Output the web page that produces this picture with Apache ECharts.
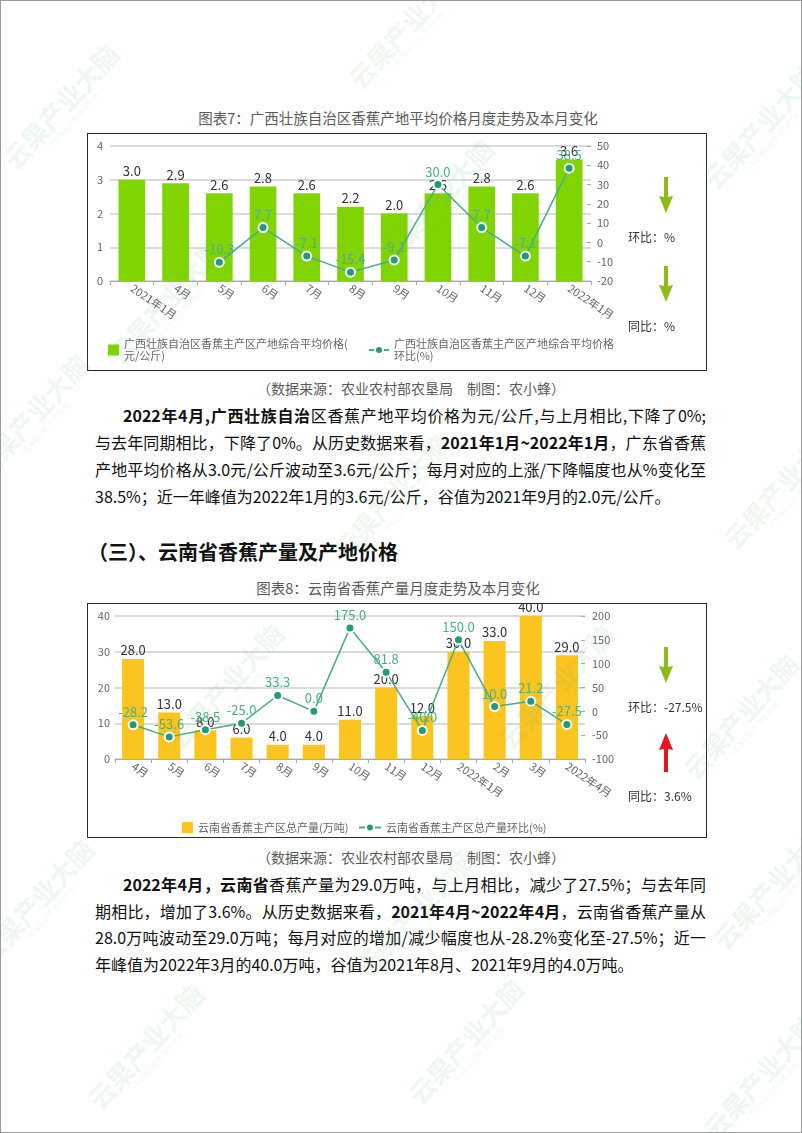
<!DOCTYPE html>
<html><head><meta charset="utf-8">
<script src="https://cdn.jsdelivr.net/npm/echarts@6/dist/echarts.min.js"></script>
<style>
html,body{margin:0;padding:0;background:#fff;}
#page{position:relative;width:802px;height:1133px;overflow:hidden;font-family:"Noto Sans CJK SC",sans-serif;color:#111;background:#fff;}
.cap{position:absolute;left:0;width:796px;text-align:center;font-size:14.5px;color:#5a5a5a;line-height:20px;height:20px;}
.src{position:absolute;left:0;width:822px;text-align:center;font-size:14px;color:#5a5a5a;line-height:20px;height:20px;}
.box{position:absolute;border:1.5px solid #2b2b2b;box-sizing:border-box;pointer-events:none;}
.chart{position:absolute;}
.ln{position:absolute;font-size:16px;line-height:27px;height:27px;white-space:nowrap;text-align:justify;text-align-last:justify;color:#111;}
.ln.last{text-align-last:left;}
.ln b{font-weight:700;}
.h3{position:absolute;left:88px;top:538px;font-size:20px;font-weight:700;line-height:28px;color:#111;}
.wm{position:absolute;width:170px;height:40px;margin-left:-85px;margin-top:-20px;text-align:center;transform:rotate(-48deg);color:rgba(95,180,115,0.11);font-size:26px;font-weight:700;line-height:28px;pointer-events:none;white-space:nowrap;z-index:5;}
.wm small{display:block;font-size:8px;line-height:10px;letter-spacing:1px;font-weight:400;}
.pgb{position:absolute;left:0;top:0;width:802px;height:1133px;box-sizing:border-box;border:1px solid #9a9a9a;pointer-events:none;z-index:6;}
</style></head>
<body><div id="page">
<div class="cap" style="top:108px;">图表7：广西壮族自治区香蕉产地平均价格月度走势及本月变化</div>
<div class="chart" id="c1" style="left:87px;top:133px;width:619px;height:237px;"></div>
<div class="box" style="left:87px;top:133px;width:620px;height:238px;"></div>
<div class="src" style="top:378px;">（数据来源：农业农村部农垦局　制图：农小蜂）</div>

<div class="ln" style="left:123px;width:583px;top:402px;"><b>2022年4月,广西壮族自治</b>区香蕉产地平均价格为元/公斤,与上月相比,下降了0%;</div>
<div class="ln" style="left:95px;width:611px;top:429px;">与去年同期相比，下降了0%。从历史数据来看，<b>2021年1月~2022年1月</b>，广东省香蕉</div>
<div class="ln" style="left:95px;width:611px;top:456px;">产地平均价格从3.0元/公斤波动至3.6元/公斤；每月对应的上涨/下降幅度也从%变化至</div>
<div class="ln last" style="left:95px;width:611px;top:483px;">38.5%；近一年峰值为2022年1月的3.6元/公斤，谷值为2021年9月的2.0元/公斤。</div>

<div class="h3">（三）、云南省香蕉产量及产地价格</div>
<div class="cap" style="top:578px;">图表8：云南省香蕉产量月度走势及本月变化</div>
<div class="chart" id="c2" style="left:87px;top:603px;width:619px;height:234px;"></div>
<div class="box" style="left:87px;top:603px;width:620px;height:235px;"></div>
<div class="src" style="top:847px;">（数据来源：农业农村部农垦局　制图：农小蜂）</div>

<div class="ln" style="left:123px;width:583px;top:871px;"><b>2022年4月，云南省</b>香蕉产量为29.0万吨，与上月相比，减少了27.5%；与去年同</div>
<div class="ln" style="left:95px;width:611px;top:897.5px;">期相比，增加了3.6%。从历史数据来看，<b>2021年4月~2022年4月</b>，云南省香蕉产量从</div>
<div class="ln" style="left:95px;width:611px;top:924px;">28.0万吨波动至29.0万吨；每月对应的增加/减少幅度也从-28.2%变化至-27.5%；近一</div>
<div class="ln last" style="left:95px;width:611px;top:950.5px;">年峰值为2022年3月的40.0万吨，谷值为2021年8月、2021年9月的4.0万吨。</div>
<div id="wms"></div>
<div class="pgb"></div>
</div>
<script>
// ---------- Chart 7 data ----------
const cats1 = ['2021年1月','4月','5月','6月','7月','8月','9月','10月','11月','12月','2022年1月'];
const price1 = [3.0, 2.9, 2.6, 2.8, 2.6, 2.2, 2.0, 2.6, 2.8, 2.6, 3.6];
const mom1 = [null, null, -10.3, 7.7, -7.1, -15.4, -9.1, 30.0, 7.7, -7.1, 38.5];
const leftTicks1 = [0, 4, 1];
const rightTicks1 = [-20, 50, 10];
const name1a = '广西壮族自治区香蕉主产区产地综合平均价格(元/公斤)';
const name1b = '广西壮族自治区香蕉主产区产地综合平均价格环比(%)';
const side1 = ['环比：%', '同比：%'];

// ---------- Chart 8 data ----------
const cats2 = ['4月','5月','6月','7月','8月','9月','10月','11月','12月','2022年1月','2月','3月','2022年4月'];
const output2 = [28.0, 13.0, 8.0, 6.0, 4.0, 4.0, 11.0, 20.0, 12.0, 30.0, 33.0, 40.0, 29.0];
const mom2 = [-28.2, -53.6, -38.5, -25.0, 33.3, 0.0, 175.0, 81.8, -40.0, 150.0, 10.0, 21.2, -27.5];
const leftTicks2 = [0, 40, 10];
const rightTicks2 = [-100, 200, 50];
const name2a = '云南省香蕉主产区总产量(万吨)';
const name2b = '云南省香蕉主产区总产量环比(%)';
const side2 = ['环比：-27.5%', '同比：3.6%'];

const FONT = '"Noto Sans CJK SC", sans-serif';
const GREEN_ARROW = '#8dbb19';
const RED_ARROW = '#e8141b';

function downArrow(cx, y0, y1, color){
  const hs = y1 - 17;
  return {type:'polygon', silent:true, z:100,
    shape:{points:[[cx-2,y0],[cx+2,y0],[cx+2,hs+1],[cx+7,hs],[cx,y1],[cx-7,hs],[cx-2,hs+1]]},
    style:{fill:color}};
}
function upArrow(cx, y0, y1, color){
  const he = y0 + 17;
  return {type:'polygon', silent:true, z:100,
    shape:{points:[[cx,y0],[cx+7,he],[cx+2,he-1],[cx+2,y1],[cx-2,y1],[cx-2,he-1],[cx-7,he]]},
    style:{fill:color}};
}
function sideText(x, y, t){
  return {type:'text', silent:true, z:100, x:x, y:y,
    style:{text:t, fill:'#333', font:'12px '+FONT, align:'left', verticalAlign:'middle'}};
}

function baseOption(cfg){
  return {
    animation:false,
    textStyle:{fontFamily:FONT},
    grid:cfg.grid,
    xAxis:{type:'category', data:cfg.cats, boundaryGap:true,
      axisLine:{lineStyle:{color:'#aaaaaa', width:1}},
      axisTick:{show:true, length:4, lineStyle:{color:'#aaaaaa'}},
      axisLabel:{interval:0, rotate:-34, fontSize:11, color:'#666', margin:6, fontFamily:FONT}},
    yAxis:[
      {type:'value', min:cfg.lt[0], max:cfg.lt[1], interval:cfg.lt[2],
        axisLine:{show:false}, axisTick:{show:false},
        axisLabel:{fontSize:11, color:'#666', margin:cfg.lm, fontFamily:FONT},
        splitLine:{lineStyle:{color:'#cfcfcf', width:1.6}}},
      {type:'value', min:cfg.rt[0], max:cfg.rt[1], interval:cfg.rt[2],
        axisLine:{show:false}, axisTick:{show:true, inside:true, length:4, lineStyle:{color:'#aaaaaa'}},
        axisLabel:{fontSize:11, color:'#666', margin:cfg.rm, fontFamily:FONT},
        splitLine:{show:false}}
    ],
    series:[
      {name:cfg.na, type:'bar', data:cfg.bars, barWidth:'61%', yAxisIndex:0,
        itemStyle:{color:cfg.barColor},
        label:{show:true, position:'top', distance:2, color:'#333', fontSize:13, fontFamily:FONT,
          formatter:p=>Number(p.value).toFixed(1)}},
      {name:cfg.nb, type:'line', data:cfg.line, yAxisIndex:1, z:5,
        symbol:'circle', symbolSize:9, showSymbol:true,
        itemStyle:{color:'#22997a', borderColor:'#ffffff', borderWidth:2},
        lineStyle:{color:'#4ea98b', width:1.5},
        label:{show:true, position:'top', distance:1, color:'#4caf82', fontSize:13, fontFamily:FONT,
          formatter:p=>p.value==null?'':Number(p.value).toFixed(1)}}
    ],
    graphic:[
      downArrow(579, 44, 80, GREEN_ARROW),
      sideText(541, 104, cfg.side[0]),
      cfg.up ? upArrow(579, 130, 169, RED_ARROW) : downArrow(579, 133, 169, GREEN_ARROW),
      sideText(541, 193, cfg.side[1])
    ]
  };
}

// Chart 1
const ch1 = echarts.init(document.getElementById('c1'), null, {renderer:'canvas'});
const o1 = baseOption({grid:{left:23, top:13, width:481, height:135}, cats:cats1, lt:leftTicks1, rt:rightTicks1,
  lm:7, rm:6, na:name1a, nb:name1b, bars:price1, line:mom1, barColor:'#80d402', side:side1, up:false});
const legText1 = {fontSize:11, color:'#666', lineHeight:12, padding:[12,0,0,0], fontFamily:FONT};
o1.legend = [
  {data:[name1a], left:16, top:194, itemWidth:11, itemHeight:11, icon:'rect', textStyle:legText1,
    formatter:()=> '广西壮族自治区香蕉主产区产地综合平均价格(\n元/公斤)'},
  {data:[name1b], left:276, top:194, itemWidth:20, itemHeight:10, textStyle:legText1,
    formatter:()=> '广西壮族自治区香蕉主产区产地综合平均价格\n环比(%)'}
];
ch1.setOption(o1);

// Chart 2
const ch2 = echarts.init(document.getElementById('c2'), null, {renderer:'canvas'});
const o2 = baseOption({grid:{left:28, top:13, width:470, height:143}, cats:cats2, lt:leftTicks2, rt:rightTicks2,
  lm:5, rm:7, na:name2a, nb:name2b, bars:output2, line:mom2, barColor:'#fcc41f', side:side2, up:true});
const legText2 = {fontSize:11, color:'#666', fontFamily:FONT};
o2.legend = [
  {data:[name2a], left:90, top:214, itemWidth:11, itemHeight:11, icon:'rect', textStyle:legText2},
  {data:[name2b], left:266, top:214, itemWidth:22, itemHeight:10, textStyle:legText2}
];
ch2.setOption(o2);

// decorative watermarks
const wmPos = [[65,110],[170,305],[440,205],[765,130],[35,420],[395,500],[785,490],[230,690],[560,690],[745,720],[40,905],[420,915],[775,890],[150,1050],[470,1045],[765,1080],[410,30]];
document.getElementById('wms').innerHTML = wmPos.map(p=>
  '<div class="wm" style="left:'+p[0]+'px;top:'+p[1]+'px;">云果产业大脑<small>YUNGUO BRAIN</small></div>').join('');
</script>
</body></html>
